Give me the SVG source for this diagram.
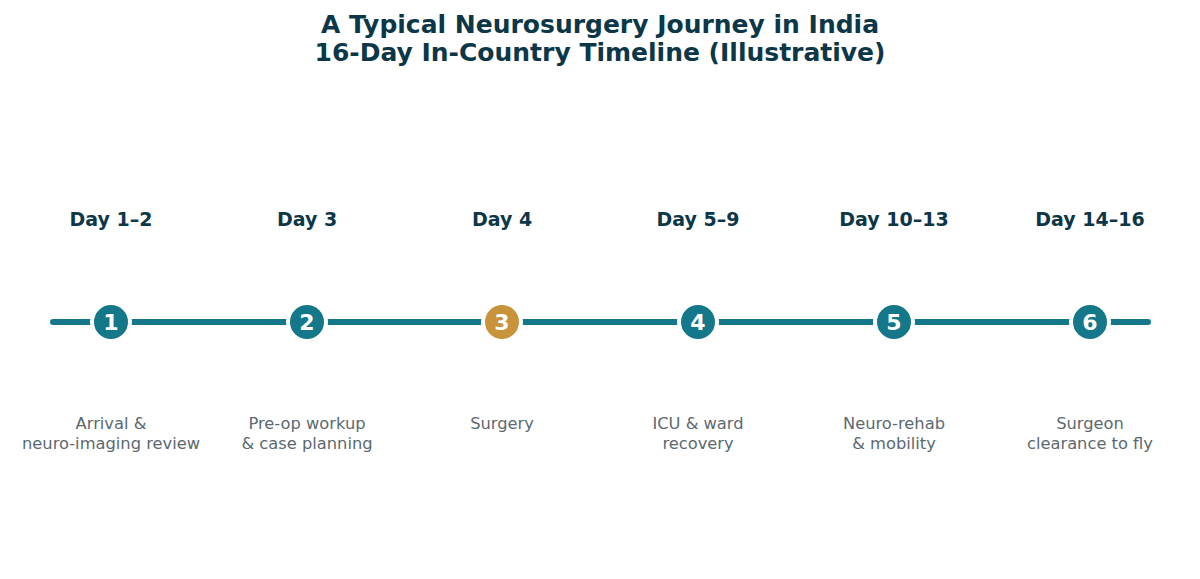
<svg xmlns="http://www.w3.org/2000/svg" width="1200" height="579" viewBox="0 0 1200 579">
<style>
text{font-family:"DejaVu Sans",Verdana,sans-serif;text-anchor:middle}
.title{font-size:25px;font-weight:bold;fill:#0c3748}
.day{font-size:19px;font-weight:bold;fill:#0c3748}
.desc{font-size:16.3px;fill:#5b6970}
.num{font-size:22px;font-weight:bold;fill:#ffffff}
.dot{fill:#14788a;stroke:#ffffff;stroke-width:4}
.gold{fill:#c8933a}
</style>
<rect width="1200" height="579" fill="#ffffff"/>
<text class="title" x="600" y="33">A Typical Neurosurgery Journey in India</text>
<text class="title" x="600" y="61">16-Day In-Country Timeline (Illustrative)</text>
<g id="connectors">
<line x1="53" y1="322" x2="1148" y2="322" stroke="#14788a" stroke-width="6" stroke-linecap="round"/>
</g>
<g id="node1"><text class="day" x="111" y="226">Day 1–2</text><circle class="dot" cx="111" cy="322" r="19"/><text class="num" x="111" y="330">1</text><text class="desc" x="111" y="429">Arrival &amp;</text><text class="desc" x="111" y="449">neuro-imaging review</text></g>
<g id="node2"><text class="day" x="307" y="226">Day 3</text><circle class="dot" cx="307" cy="322" r="19"/><text class="num" x="307" y="330">2</text><text class="desc" x="307" y="429">Pre-op workup</text><text class="desc" x="307" y="449">&amp; case planning</text></g>
<g id="node3"><text class="day" x="502" y="226">Day 4</text><circle class="dot gold" cx="502" cy="322" r="19"/><text class="num" x="502" y="330">3</text><text class="desc" x="502" y="429">Surgery</text></g>
<g id="node4"><text class="day" x="698" y="226">Day 5–9</text><circle class="dot" cx="698" cy="322" r="19"/><text class="num" x="698" y="330">4</text><text class="desc" x="698" y="429">ICU &amp; ward</text><text class="desc" x="698" y="449">recovery</text></g>
<g id="node5"><text class="day" x="894" y="226">Day 10–13</text><circle class="dot" cx="894" cy="322" r="19"/><text class="num" x="894" y="330">5</text><text class="desc" x="894" y="429">Neuro-rehab</text><text class="desc" x="894" y="449">&amp; mobility</text></g>
<g id="node6"><text class="day" x="1090" y="226">Day 14–16</text><circle class="dot" cx="1090" cy="322" r="19"/><text class="num" x="1090" y="330">6</text><text class="desc" x="1090" y="429">Surgeon</text><text class="desc" x="1090" y="449">clearance to fly</text></g>
</svg>
